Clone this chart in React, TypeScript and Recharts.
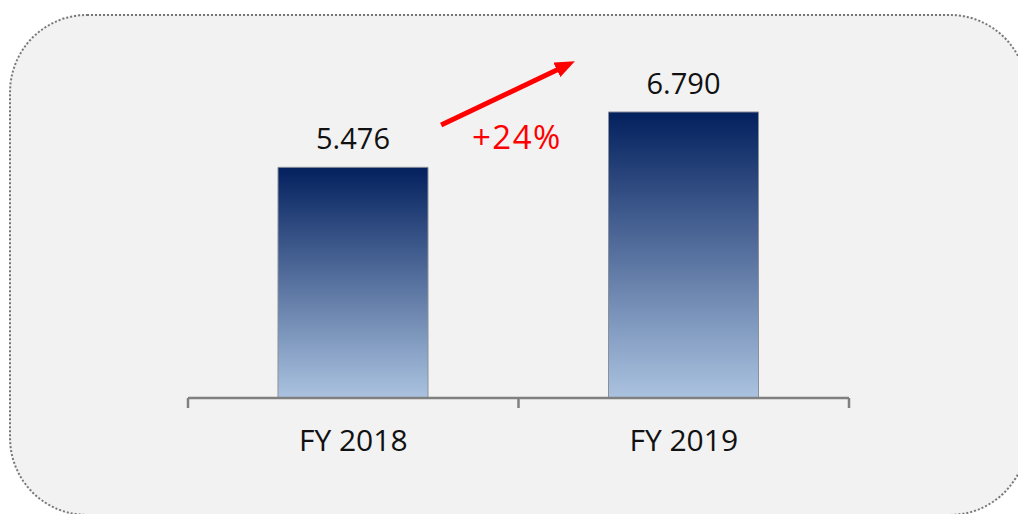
import React from 'react';
import { BarChart, Bar, XAxis, YAxis, LabelList, ReferenceLine, ReferenceDot } from 'recharts';

const categories: string[] = ['FY 2018', 'FY 2019'];
const revenue: number[] = [5.476, 6.79];
const slots: number[] = [0.5, 1.5];
const growthLabel = '+24%';
const frameTicks: number[] = [0, 1, 2];
const frameDomain: [number, number] = [0, 2];
const yDomain: [number, number] = [0, 8];

const data = categories.map((c, i) => ({ category: c, value: revenue[i], slot: slots[i] }));

// annotation anchors in chart (data) coordinates
const arrowSegment = [
  { x: 0.766, y: 6.48 },
  { x: 1.127, y: 7.83 },
];
const growthAnchor = { x: 0.995, y: 5.91 };

const FONT = '"Open Sans", "Noto Sans", sans-serif';

export default function App() {
  return (
    <div style={{ position: 'absolute', left: 0, top: 0, width: 1018, height: 514, overflow: 'hidden', background: '#ffffff' }}>
      <div
        style={{
          position: 'absolute',
          left: 9,
          top: 14,
          width: 1019,
          height: 502,
          boxSizing: 'border-box',
          border: '2px dotted #777777',
          borderRadius: 78,
          background: '#f2f2f2',
        }}
      />
      <div style={{ position: 'absolute', left: 0, top: 0 }}>
        <BarChart width={1018} height={514} data={data} margin={{ top: 61, right: 169, bottom: 0, left: 188 }}>
          <defs>
            <linearGradient id="barGrad" x1="0" y1="0" x2="0" y2="1">
              <stop offset="0%" stopColor="#03205e" />
              <stop offset="100%" stopColor="#abc3e0" />
            </linearGradient>
            <marker id="arrowHead" markerUnits="userSpaceOnUse" markerWidth={20} markerHeight={16} refX={4} refY={8} orient="auto">
              <path d="M0,0 L20,8 L0,16 z" fill="#ff0000" />
            </marker>
          </defs>
          <YAxis hide domain={yDomain} />
          <XAxis
            xAxisId="axisA"
            dataKey="slot"
            type="number"
            domain={frameDomain}
            ticks={frameTicks}
            allowDataOverflow
            tick={() => <g />}
            tickSize={10}
            height={1}
            axisLine={{ stroke: '#808080', strokeWidth: 2.5 }}
            tickLine={{ stroke: '#808080', strokeWidth: 2.5 }}
          />
          <XAxis
            xAxisId="axisB"
            dataKey="category"
            axisLine={false}
            tickLine={false}
            tickSize={0}
            tickMargin={31}
            height={115}
            interval={0}
            tick={{ fontSize: 30, fill: '#111111', fontFamily: FONT }}
          />
          <Bar
            xAxisId="axisB"
            dataKey="value"
            barSize={150}
            fill="url(#barGrad)"
            stroke="#8a8f99"
            strokeWidth={1}
            isAnimationActive={false}
          >
            <LabelList
              dataKey="value"
              position="top"
              offset={18}
              formatter={(v: any) => Number(v).toFixed(3)}
              style={{ fontSize: 29, fill: '#111111', fontFamily: FONT }}
            />
          </Bar>
          <ReferenceLine
            xAxisId="axisA"
            segment={arrowSegment}
            ifOverflow="visible"
            stroke="#ff0000"
            strokeWidth={5}
            shape={(p: any) => (
              <line x1={p.x1} y1={p.y1} x2={p.x2} y2={p.y2} stroke="#ff0000" strokeWidth={5} markerEnd="url(#arrowHead)" />
            )}
          />
          <ReferenceDot
            xAxisId="axisA"
            x={growthAnchor.x}
            y={growthAnchor.y}
            ifOverflow="visible"
            r={0}
            shape={(p: any) => (
              <text x={p.cx} y={p.cy} textAnchor="middle" fontSize={33} letterSpacing={1.5} fill="#ff0000" fontFamily={FONT}>
                {growthLabel}
              </text>
            )}
          />
        </BarChart>
      </div>
    </div>
  );
}
